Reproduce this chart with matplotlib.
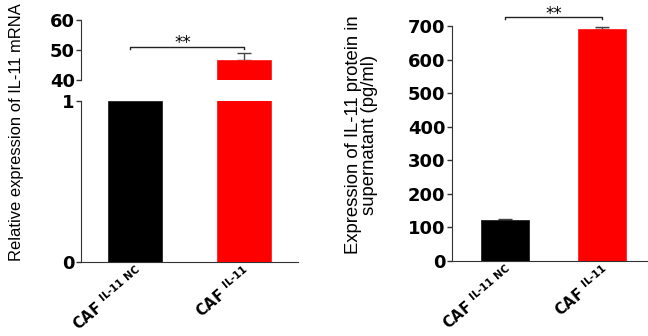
import matplotlib
matplotlib.use("Agg")
import matplotlib.pyplot as plt

# data
groups = [r"CAF $^{IL\text{-}11\ NC}$", r"CAF $^{IL\text{-}11}$"]
mrna_mean = [1.0, 46.5]
mrna_err = [0.0, 2.4]
protein_mean = [122, 690]
protein_err = [3, 6]
bar_colors = ["#000000", "#ff0000"]

plt.rcParams["mathtext.fontset"] = "custom"
plt.rcParams["mathtext.rm"] = "DejaVu Sans:bold"
plt.rcParams["mathtext.it"] = "DejaVu Sans:bold"
plt.rcParams["mathtext.bf"] = "DejaVu Sans:bold"

tick_font = dict(family="DejaVu Sans", weight="bold", size=13)
xtick_font = dict(family="DejaVu Sans", weight="bold", size=10.5)
spine_col = "#333333"

fig = plt.figure(figsize=(6.48, 3.36), dpi=100)

x = [0, 1]

# ---- left panel: broken y axis ----
ax_lo = fig.add_axes([0.125, 0.2202, 0.335, 0.4792])
ax_hi = fig.add_axes([0.125, 0.7619, 0.335, 0.1786])

for ax in (ax_lo, ax_hi):
    ax.bar(x, mrna_mean, width=0.5, color=bar_colors, edgecolor=["#222222", "#ff2020"],
           linewidth=0.6, zorder=3)
    ax.set_xlim(-0.5, 1.5)
    ax.spines["top"].set_visible(False)
    ax.spines["right"].set_visible(False)
    ax.spines["left"].set_color(spine_col)
    ax.spines["bottom"].set_color(spine_col)
    ax.tick_params(axis="y", length=3.5, width=1, color=spine_col, pad=1)

ax_lo.set_ylim(0, 1)
ax_lo.set_yticks([0, 1])
ax_lo.set_yticklabels(["0", "1"], **tick_font)
ax_lo.set_xticks(x)
ax_lo.set_xticklabels(groups, rotation=40, ha="right", rotation_mode="anchor", **xtick_font)
ax_lo.tick_params(axis="x", length=0, pad=1)

ax_hi.set_ylim(40, 60)
ax_hi.set_yticks([40, 50, 60])
ax_hi.set_yticklabels(["40", "50", "60"], **tick_font)
ax_hi.spines["bottom"].set_visible(False)
ax_hi.set_xticks([])
ax_hi.errorbar(1, mrna_mean[1], yerr=[[0], [mrna_err[1]]], fmt="none", ecolor="#444444",
               elinewidth=1, capsize=5, capthick=1, zorder=2)

# significance bracket
ax_hi.plot([-0.05, -0.05, 1.0, 1.0], [50.3, 51, 51, 50.3], color="#222222", lw=1.0, clip_on=False)
ax_hi.text(0.44, 52.4, "**", ha="center", va="center", fontsize=12, family="DejaVu Sans")

fig.text(0.025, 0.606, "Relative expression of IL-11 mRNA", rotation=90,
         ha="center", va="center", family="Liberation Sans", size=11.9)

# ---- right panel ----
ax_r = fig.add_axes([0.697, 0.2240, 0.301, 0.6986])
ax_r.bar(x, protein_mean, width=0.5, color=bar_colors, edgecolor=["#222222", "#ff2020"],
         linewidth=0.6, zorder=3)
ax_r.errorbar(x, protein_mean, yerr=[[0, 0], protein_err], fmt="none", ecolor="#444444",
              elinewidth=1, capsize=5, capthick=1, zorder=2)
ax_r.set_xlim(-0.55, 1.46)
ax_r.set_ylim(0, 700)
ax_r.set_yticks(range(0, 701, 100))
ax_r.set_yticklabels([str(v) for v in range(0, 701, 100)], **tick_font)
ax_r.spines["top"].set_visible(False)
ax_r.spines["right"].set_visible(False)
ax_r.spines["left"].set_color(spine_col)
ax_r.spines["bottom"].set_color(spine_col)
ax_r.tick_params(axis="y", length=3.5, width=1, color=spine_col, pad=1)
ax_r.set_xticks(x)
ax_r.set_xticklabels(groups, rotation=40, ha="right", rotation_mode="anchor", **xtick_font)
ax_r.tick_params(axis="x", length=0, pad=1)

ax_r.plot([0, 0, 1, 1], [721, 727, 727, 721], color="#222222", lw=1.0, clip_on=False)
ax_r.text(0.5, 737, "**", ha="center", va="center", fontsize=12, family="DejaVu Sans")

fig.text(0.558, 0.598, "Expression of IL-11 protein in\nsupernatant (pg/ml)", rotation=90,
         ha="center", va="center", multialignment="center", linespacing=0.98,
         family="Liberation Sans", size=13.3)

fig.savefig("out.png", dpi=100)
